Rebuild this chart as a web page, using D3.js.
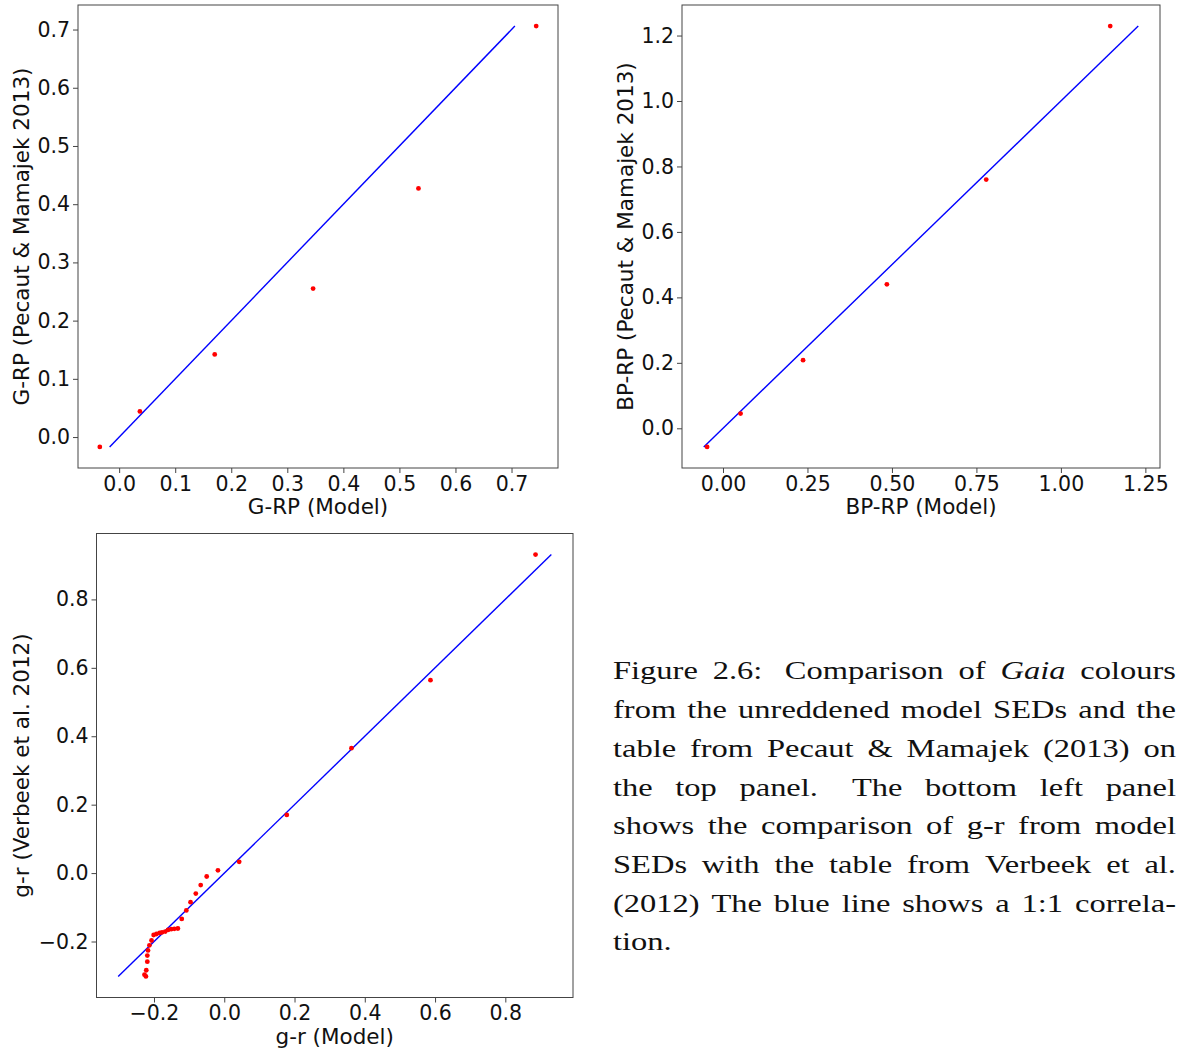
<!DOCTYPE html>
<html>
<head>
<meta charset="utf-8">
<script src="https://cdn.jsdelivr.net/npm/d3@7"></script>
<style>
  body { margin: 0; background: #fff; }
  svg text { font-family: "DejaVu Sans", sans-serif; }
</style>
</head>
<body>
<div id="chart"></div>
<script>
// top left: G-RP
const grpModel = [-0.0345, 0.037, 0.1705, 0.346, 0.534, 0.744];
const grpPecaut = [-0.017, 0.044, 0.142, 0.255, 0.427, 0.706];
const grpTicksX = [0, 0.1, 0.2, 0.3, 0.4, 0.5, 0.6, 0.7];
const grpTicksY = [0, 0.1, 0.2, 0.3, 0.4, 0.5, 0.6, 0.7];

// top right: BP-RP
const bprpModel = [-0.047, 0.052, 0.237, 0.485, 0.779, 1.146];
const bprpPecaut = [-0.057, 0.045, 0.208, 0.440, 0.760, 1.229];
const bprpTicksX = [0, 0.25, 0.5, 0.75, 1.0, 1.25];
const bprpTicksY = [0, 0.2, 0.4, 0.6, 0.8, 1.0, 1.2];

// bottom left: g-r
const grModel = [0.886, 0.587, 0.362, 0.178, 0.0425, -0.018, -0.050, -0.067, -0.081, -0.096,
  -0.108, -0.121, -0.132, -0.142, -0.151, -0.160, -0.168, -0.177, -0.184, -0.193,
  -0.201, -0.207, -0.213, -0.217, -0.219, -0.219, -0.222, -0.227, -0.223];
const grVerbeek = [0.931, 0.564, 0.365, 0.170, 0.033, 0.008, -0.010, -0.035, -0.060, -0.085,
  -0.109, -0.134, -0.162, -0.163, -0.164, -0.166, -0.171, -0.173, -0.175, -0.178,
  -0.181, -0.197, -0.211, -0.226, -0.241, -0.259, -0.284, -0.297, -0.302];
const grTicksX = [-0.2, 0, 0.2, 0.4, 0.6, 0.8];
const grTicksY = [-0.2, 0, 0.2, 0.4, 0.6, 0.8];

const captionLines = [
  ['Figure', '2.6:', 'Comparison', 'of', 'Gaia', 'colours'],
  ['from', 'the', 'unreddened', 'model', 'SEDs', 'and', 'the'],
  ['table', 'from', 'Pecaut', '&', 'Mamajek', '(2013)', 'on'],
  ['the', 'top', 'panel.', 'The', 'bottom', 'left', 'panel'],
  ['shows', 'the', 'comparison', 'of', 'g-r', 'from', 'model'],
  ['SEDs', 'with', 'the', 'table', 'from', 'Verbeek', 'et', 'al.'],
  ['(2012)', 'The', 'blue', 'line', 'shows', 'a', '1:1', 'correla-'],
  ['tion.']
];
const italicWords = ['Gaia'];

const panels = [
  { xs: grpModel, ys: grpPecaut, tx: grpTicksX, ty: grpTicksY, fx: '.1f', fy: '.1f',
    box: [78, 558, 5, 468], xlabel: 'G-RP (Model)', ylabel: 'G-RP (Pecaut & Mamajek 2013)', ylx: 29 },
  { xs: bprpModel, ys: bprpPecaut, tx: bprpTicksX, ty: bprpTicksY, fx: '.2f', fy: '.1f',
    box: [682, 1160, 5, 468], xlabel: 'BP-RP (Model)', ylabel: 'BP-RP (Pecaut & Mamajek 2013)', ylx: 633 },
  { xs: grModel, ys: grVerbeek, tx: grTicksX, ty: grTicksY, fx: '.1f', fy: '.1f',
    box: [96.5, 573, 533.5, 997.5], xlabel: 'g-r (Model)', ylabel: 'g-r (Verbeek et al. 2012)', ylx: 29 }
];

const svg = d3.select('#chart')
              .append('svg')
              .attr('width', 1177)
              .attr('height', 1050);

// matplotlib style 5% margins around data + 1:1 line
function padded(ext) {
  const m = (ext[1] - ext[0]) * 0.05;
  return [ext[0] - m, ext[1] + m];
}

panels.forEach(p => {
  const [x0, x1, y0, y1] = p.box;
  const lineExt = d3.extent(p.ys);
  const xExt = d3.extent(p.xs.concat(lineExt));
  const yExt = d3.extent(p.ys.concat(lineExt));

  const xScale = d3.scaleLinear().domain(padded(xExt)).range([x0, x1]);
  const yScale = d3.scaleLinear().domain(padded(yExt)).range([y1, y0]);

  const xAxis = d3.axisBottom(xScale).tickValues(p.tx).tickFormat(d3.format(p.fx))
                  .tickSize(5).tickPadding(3).tickSizeOuter(0);
  const yAxis = d3.axisLeft(yScale).tickValues(p.ty).tickFormat(d3.format(p.fy))
                  .tickSize(5).tickPadding(3).tickSizeOuter(0);

  const gx = svg.append('g')
     .attr('transform', `translate(0, ${y1})`)
     .call(xAxis);
  const gy = svg.append('g')
     .attr('transform', `translate(${x0}, 0)`)
     .call(yAxis);

  [gx, gy].forEach(g => {
    g.select('.domain').remove();
    g.selectAll('.tick line').attr('stroke', '#444');
    g.selectAll('.tick text').attr('fill', '#111')
     .style('font-size', '20.5px').style('font-family', '"DejaVu Sans"');
  });

  // frame
  svg.append('rect')
     .attr('x', x0).attr('y', y0)
     .attr('width', x1 - x0).attr('height', y1 - y0)
     .attr('fill', 'none')
     .attr('stroke', '#444')
     .attr('stroke-width', 1);

  // 1:1 line
  svg.append('line')
     .attr('x1', xScale(lineExt[0])).attr('y1', yScale(lineExt[0]))
     .attr('x2', xScale(lineExt[1])).attr('y2', yScale(lineExt[1]))
     .attr('stroke', '#0000ff')
     .attr('stroke-width', 1.4);

  svg.append('g')
     .selectAll('circle')
     .data(p.xs.map((d, i) => [d, p.ys[i]]))
     .enter()
     .append('circle')
     .attr('cx', d => xScale(d[0]))
     .attr('cy', d => yScale(d[1]))
     .attr('r', 2.4)
     .attr('fill', '#ff0000');

  svg.append('text')
     .attr('x', (x0 + x1) / 2)
     .attr('y', y1 + 46)
     .attr('text-anchor', 'middle')
     .attr('fill', '#111')
     .style('font-size', '21.5px')
     .text(p.xlabel);

  svg.append('text')
     .attr('transform', `translate(${p.ylx}, ${(y0 + y1) / 2}) rotate(-90)`)
     .attr('text-anchor', 'middle')
     .attr('fill', '#111')
     .style('font-size', '21.5px')
     .text(p.ylabel);
});

// caption, justified like the LaTeX original (glyphs are drawn a bit wide there)
const capLeft = 613, capRight = 1176, capTop = 679.5, capStep = 38.7, capSx = 1.25;
const capWidth = (capRight - capLeft) / capSx;
const cap = svg.append('g')
               .attr('transform', `translate(${capLeft}, 0) scale(${capSx}, 1)`);

captionLines.forEach((words, li) => {
  const y = capTop + li * capStep;
  const nodes = words.map(w => cap.append('text')
     .attr('y', y)
     .attr('fill', '#111')
     .style('font-family', '"Liberation Serif", serif')
     .style('font-size', '26px')
     .style('font-style', italicWords.includes(w) ? 'italic' : 'normal')
     .text(w));
  const widths = nodes.map(n => n.node().getComputedTextLength());
  const last = li === captionLines.length - 1;
  // wider gap after sentence ends / colons
  const weights = words.slice(0, -1).map(w => /[.:]$/.test(w) && w !== 'al.' ? 1.5 : 1);
  const gap = last ? 7 : (capWidth - d3.sum(widths)) / d3.sum(weights);
  let x = 0;
  nodes.forEach((n, i) => {
    n.attr('x', x);
    x += widths[i] + (i < weights.length ? gap * weights[i] : 0);
  });
});
</script>
</body>
</html>
